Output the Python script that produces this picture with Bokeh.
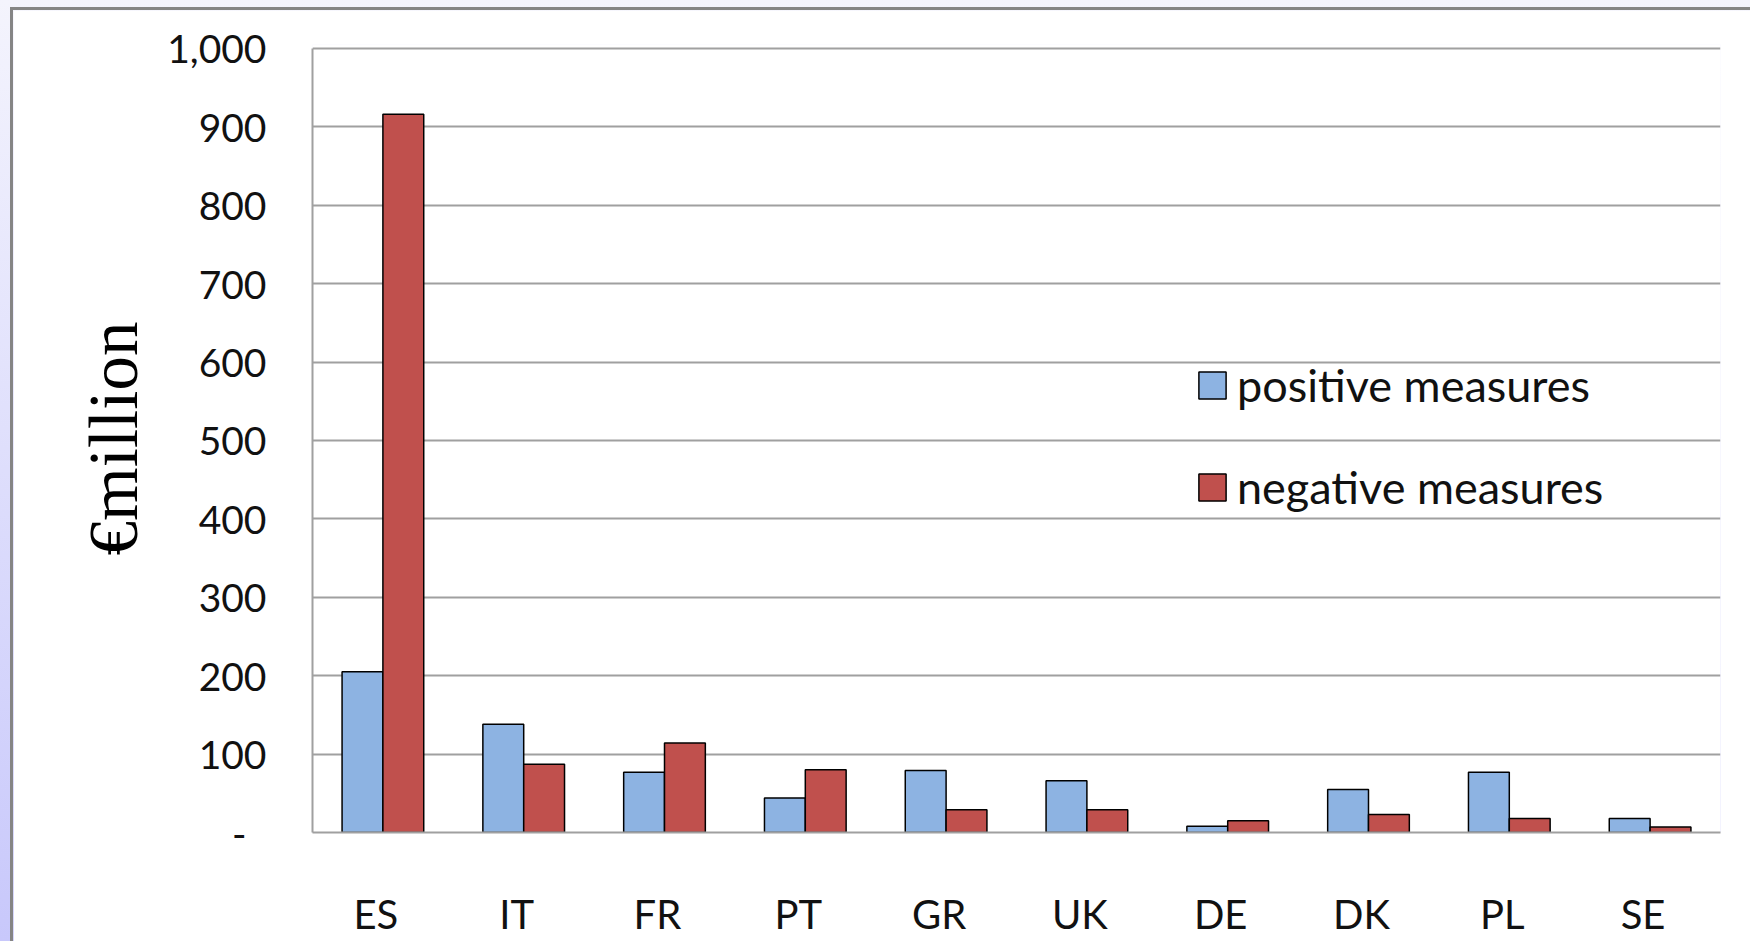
from bokeh.plotting import figure
from bokeh.layouts import column
from bokeh.models import (ColumnDataSource, Range1d, FixedTicker,
                          Legend, LegendItem)
from bokeh.transform import dodge
from bokeh.embed import file_html
from bokeh.resources import INLINE

countries = ["ES", "IT", "FR", "PT", "GR", "UK", "DE", "DK", "PL", "SE"]
positive = [205, 138, 77, 44, 79, 66, 8, 55, 77, 18]
negative = [916, 87, 114, 80, 29, 29, 15, 23, 18, 7]
y_ticks = [0, 100, 200, 300, 400, 500, 600, 700, 800, 900, 1000]
y_tick_labels = ["-\u00a0\u00a0", "100", "200", "300", "400", "500",
                 "600", "700", "800", "900", "1,000"]

n = len(countries)
slot = [i + 0.5 for i in range(n)]           # centre of each country's slot
src = ColumnDataSource(dict(country=countries, slot=slot, pos=positive, neg=negative))

W, H = 1740, 934
p = figure(x_range=Range1d(0, n), y_range=Range1d(0, 1005),
           width=W, height=H, output_backend="svg", toolbar_location=None,
           min_border_left=299, min_border_right=W - 1707,
           min_border_top=34, min_border_bottom=H - 822,
           background_fill_color="white", border_fill_color="white",
           outline_line_color=None)
p.styles = {"border-left": "3px solid #858585", "border-top": "3px solid #858585"}

r1 = p.vbar(x=dodge("slot", -0.145), top="pos", width=0.29,
            source=src, fill_color="#8db3e2", line_color="black", line_width=1.5)
r2 = p.vbar(x=dodge("slot", 0.145), top="neg", width=0.29,
            source=src, fill_color="#c0504d", line_color="black", line_width=1.5)

# y axis
yax = p.yaxis[0]
yax.ticker = FixedTicker(ticks=y_ticks)
yax.major_label_overrides = {t: l for t, l in zip(y_ticks, y_tick_labels)}
yax.bounds = (0, 1000)
yax.axis_label = "€million"
yax.axis_label_text_font = "Liberation Serif"
yax.axis_label_text_font_style = "normal"
yax.axis_label_text_font_size = "69px"
yax.axis_label_text_color = "black"
yax.axis_label_standoff = 12
yax.major_label_text_font_size = "39px"
yax.major_label_standoff = 40

# x axis: country names sit slightly left of the slot centres in the original
label_pos = [s - 0.05 for s in slot]
xax = p.xaxis[0]
xax.ticker = FixedTicker(ticks=label_pos)
xax.major_label_overrides = {t: c for t, c in zip(label_pos, countries)}
xax.major_label_text_font_size = "40px"
xax.major_label_standoff = 51

for ax in (xax, yax):
    ax.major_tick_line_color = None
    ax.minor_tick_line_color = None
    ax.axis_line_color = "#a0a0a0"
    ax.axis_line_width = 2
    ax.major_label_text_font = "Lato"
    ax.major_label_text_color = "#111111"

p.xgrid.grid_line_color = None
p.ygrid.ticker = FixedTicker(ticks=y_ticks[1:])
p.ygrid.grid_line_color = "#a0a0a0"
p.ygrid.grid_line_width = 2

legend = Legend(items=[LegendItem(label="positive measures", renderers=[r1]),
                       LegendItem(label="negative measures", renderers=[r2])],
                location=(883, 318), orientation="vertical",
                label_text_font="Lato", label_text_font_size="45px",
                label_text_color="#111111",
                glyph_width=34, glyph_height=34, label_standoff=8,
                spacing=48, padding=0, margin=0,
                border_line_color=None, background_fill_alpha=0)
p.add_layout(legend, "center")

page = column(p, styles={"background": "linear-gradient(to bottom, #f4f4fd, #c8c8fb)",
                         "padding": "7px 0 0 10px"})

open("out.html", "w").write(file_html(page, INLINE))
